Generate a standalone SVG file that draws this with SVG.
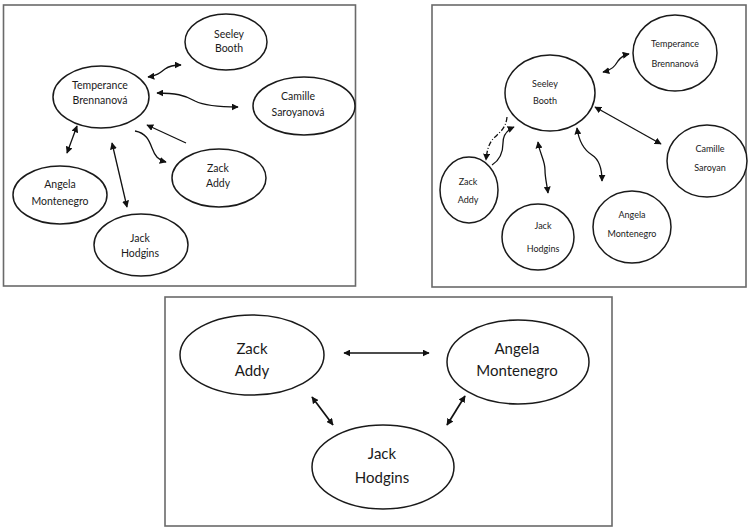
<svg xmlns="http://www.w3.org/2000/svg" width="749" height="528" viewBox="0 0 749 528">
<style>
.frame{fill:none;stroke:#6a6a6a;stroke-width:1.6}
.node{fill:#fff;stroke:#1a1a1a;stroke-width:1.5}
.t1{font-family:Lato,"Noto Sans",sans-serif;font-size:10.5px;fill:#1a1a1a;text-anchor:middle}
.t2{font-family:Lato,"Noto Sans",sans-serif;font-size:9px;fill:#1a1a1a;text-anchor:middle}
.t3{font-family:Lato,"Noto Sans",sans-serif;font-size:15px;fill:#1a1a1a;text-anchor:middle}
.c{fill:none;stroke:#111;stroke-width:1.3}
.c3{fill:none;stroke:#111;stroke-width:1.7}
.both{marker-start:url(#ah);marker-end:url(#ah)}
.end{marker-end:url(#ah)}
.dash{stroke-dasharray:5 2 1 2}
</style>
<defs>
<marker id="ah" viewBox="0 0 10 10" refX="9" refY="5" markerWidth="7" markerHeight="7" markerUnits="userSpaceOnUse" orient="auto-start-reverse">
<path d="M0,0 L10,5 L0,10 z" fill="#111"/>
</marker>
</defs>
<rect width="749" height="528" fill="#fff"/>
<rect class="frame" x="3.5" y="5" width="352" height="281"/>
<rect class="frame" x="432" y="5" width="314" height="282"/>
<rect class="frame" x="165" y="297" width="447" height="229"/>

<g id="connectors">
<path class="c both" d="M148,77 C156,76 160,73 165,69 C169,66 173,65 181,65"/>
<path class="c both" d="M157,93 C175,93 185,95 195,101 C205,106 220,107 238,107"/>
<path class="c end" d="M186,143 L147,125"/>
<path class="c end" d="M135,131 C146,133 149,140 152,148 C155,156 158,160 166,162"/>
<path class="c both" d="M77,126 L67,153"/>
<path class="c both" d="M112,143 L127,207"/>

<path class="c both" d="M603,72 C612,70 615,66 618,61 C621,57 624,55 629,54"/>
<path class="c both" d="M595,107 L661,144"/>
<path class="c both" d="M577,128 C579,142 584,150 592,155 C600,160 602,170 602,181"/>
<path class="c both" d="M538,142 C540,155 545,160 545,170 C545,178 547,185 548,193"/>
<path class="c end dash" d="M507,117 C506,128 500,132 495,137 C489,142 487,150 486,160"/>
<path class="c end" d="M492,165 C500,160 503,152 503,143 C503,135 507,130 514,127"/>

<path class="c3 both" d="M344,353 L429,353"/>
<path class="c3 both" d="M312,397 L333,425"/>
<path class="c3 both" d="M465,396 L447,425"/>
</g>

<g id="p1-seeley"><ellipse class="node" cx="226" cy="42" rx="41" ry="28"/><text class="t1" x="229" y="38">Seeley</text><text class="t1" x="229" y="52">Booth</text></g>
<g id="p1-temperance"><ellipse class="node" cx="101" cy="97" rx="48" ry="31"/><text class="t1" x="100" y="89">Temperance</text><text class="t1" x="100" y="104">Brennanová</text></g>
<g id="p1-camille"><ellipse class="node" cx="304" cy="106" rx="51" ry="29"/><text class="t1" x="298" y="100">Camille</text><text class="t1" x="298" y="116">Saroyanová</text></g>
<g id="p1-zack"><ellipse class="node" cx="219" cy="178" rx="47" ry="29"/><text class="t1" x="218" y="172">Zack</text><text class="t1" x="218" y="187">Addy</text></g>
<g id="p1-angela"><ellipse class="node" cx="60" cy="195" rx="47" ry="29"/><text class="t1" x="60" y="188">Angela</text><text class="t1" x="60" y="205">Montenegro</text></g>
<g id="p1-jack"><ellipse class="node" cx="141" cy="245" rx="47" ry="31"/><text class="t1" x="140" y="242">Jack</text><text class="t1" x="140" y="257">Hodgins</text></g>

<g id="p2-seeley"><ellipse class="node" cx="550" cy="93" rx="45" ry="38"/><text class="t2" x="545" y="87">Seeley</text><text class="t2" x="545" y="104">Booth</text></g>
<g id="p2-temperance"><ellipse class="node" cx="675" cy="53" rx="42" ry="38"/><text class="t2" x="675" y="47">Temperance</text><text class="t2" x="675" y="67">Brennanová</text></g>
<g id="p2-camille"><ellipse class="node" cx="707" cy="161" rx="40" ry="36"/><text class="t2" x="710" y="152">Camille</text><text class="t2" x="710" y="171">Saroyan</text></g>
<g id="p2-zack"><ellipse class="node" cx="469" cy="190" rx="29" ry="33"/><text class="t2" x="468" y="185">Zack</text><text class="t2" x="468" y="203">Addy</text></g>
<g id="p2-jack"><ellipse class="node" cx="538" cy="237" rx="36" ry="33"/><text class="t2" x="543" y="229">Jack</text><text class="t2" x="543" y="252">Hodgins</text></g>
<g id="p2-angela"><ellipse class="node" cx="632" cy="227" rx="39" ry="36"/><text class="t2" x="632" y="218">Angela</text><text class="t2" x="632" y="237">Montenegro</text></g>

<g id="p3-zack"><ellipse class="node" cx="252" cy="355" rx="72" ry="40"/><text class="t3" x="252" y="354">Zack</text><text class="t3" x="252" y="376">Addy</text></g>
<g id="p3-angela"><ellipse class="node" cx="518" cy="362" rx="71" ry="42"/><text class="t3" x="517" y="354">Angela</text><text class="t3" x="517" y="376">Montenegro</text></g>
<g id="p3-jack"><ellipse class="node" cx="383" cy="467" rx="71" ry="42"/><text class="t3" x="382" y="459">Jack</text><text class="t3" x="382" y="483">Hodgins</text></g>
</svg>
